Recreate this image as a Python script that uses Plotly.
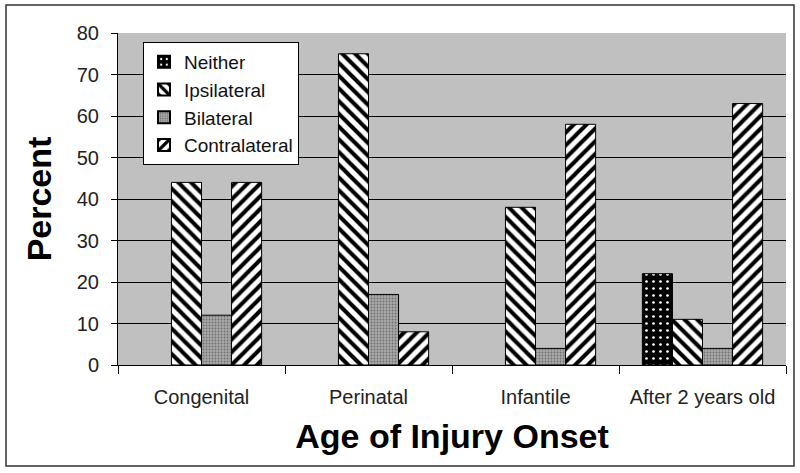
import plotly.graph_objects as go

categories = ["Congenital", "Perinatal", "Infantile", "After 2 years old"]
neither = [0, 0, 0, 22]
ipsilateral = [44, 75, 38, 11]
bilateral = [12, 17, 4, 4]
contralateral = [44, 8, 58, 63]
y_ticks = [0, 10, 20, 30, 40, 50, 60, 70, 80]

FONT = "Liberation Sans, Arial, sans-serif"

fig = go.Figure()


def outline(vals):
    return dict(color="black", width=[1 if v > 0 else 0 for v in vals])


fig.add_trace(go.Bar(
    name="Neither", x=categories, y=neither,
    marker=dict(color="black", line=outline(neither),
                pattern=dict(shape=".", fillmode="overlay", fgcolor="white",
                             fgopacity=1, size=7, solidity=0.12)),
))
fig.add_trace(go.Bar(
    name="Ipsilateral", x=categories, y=ipsilateral,
    marker=dict(color="white", line=outline(ipsilateral),
                pattern=dict(shape="\\", fillmode="overlay", fgcolor="black",
                             fgopacity=1, size=9, solidity=0.45)),
))
fig.add_trace(go.Bar(
    name="Bilateral", x=categories, y=bilateral,
    marker=dict(color="#a8a8a8", line=outline(bilateral),
                pattern=dict(shape=".", fillmode="overlay", fgcolor="#707070",
                             fgopacity=1, size=3, solidity=0.3)),
))
fig.add_trace(go.Bar(
    name="Contralateral", x=categories, y=contralateral,
    marker=dict(color="white", line=outline(contralateral),
                pattern=dict(shape="/", fillmode="overlay", fgcolor="black",
                             fgopacity=1, size=9, solidity=0.45)),
))

L, R, T, B = 118, 14, 33, 108
W, H = 800, 473
pw = W - L - R
ph = H - T - B


def px(x):
    return (x - L) / pw


def py(y):
    return (H - B - y) / ph


fig.update_layout(
    width=W, height=H,
    margin=dict(l=L, r=R, t=T, b=B, pad=0),
    paper_bgcolor="white",
    plot_bgcolor="#c0c0c0",
    barmode="group",
    bargap=0.28,
    bargroupgap=0,
    font=dict(family=FONT, color="#222222"),
    showlegend=True,
    legend=dict(
        x=px(143), y=py(42), xanchor="left", yanchor="top",
        bgcolor="white", bordercolor="black", borderwidth=1,
        font=dict(family=FONT, size=19, color="#111111"),
        itemsizing="constant",
    ),
    xaxis=dict(
        type="category",
        showline=True, linecolor="black", linewidth=1,
        ticks="outside", ticklen=8, tickcolor="black", tickson="boundaries",
        tickfont=dict(family=FONT, size=20, color="#222222"),
        ticklabelstandoff=14,
        showgrid=False,
        title=dict(text="<b>Age of Injury Onset</b>",
                   font=dict(family=FONT, size=34, color="black"), standoff=17),
    ),
    yaxis=dict(
        range=[0, 80], tickvals=y_ticks,
        showline=True, linecolor="black", linewidth=1,
        ticks="outside", ticklen=6, tickcolor="black",
        tickfont=dict(family=FONT, size=20, color="#222222"),
        ticklabelstandoff=8,
        showgrid=True, gridcolor="black", gridwidth=1,
        zeroline=False,
        title=dict(text="<b>Percent</b>",
                   font=dict(family=FONT, size=34, color="black"), standoff=14),
    ),
    shapes=[dict(
        type="rect", xref="paper", yref="paper",
        x0=px(6), x1=px(794), y0=py(466), y1=py(5),
        line=dict(color="#333333", width=1.5), fillcolor="rgba(0,0,0,0)",
        layer="below",
    )],
)

fig.write_html(
    "out.html",
    config={"displayModeBar": False},
    post_script="document.body.style.margin='0';document.body.style.padding='0';",
)
